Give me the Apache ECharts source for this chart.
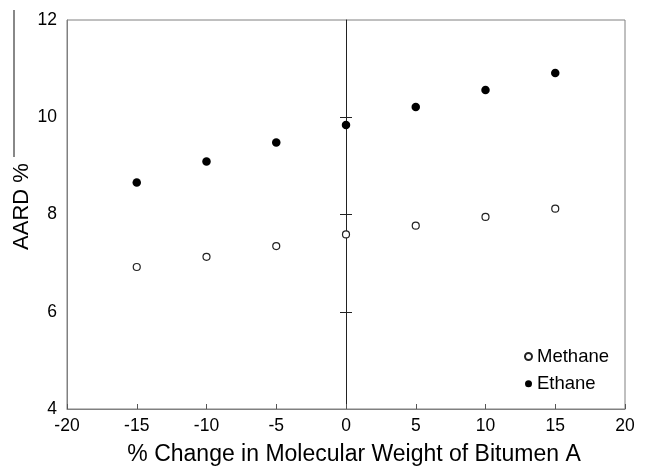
<!DOCTYPE html>
<html>
<head>
<meta charset="utf-8">
<style>
  html, body { margin: 0; padding: 0; background: #fff; }
  #chart { width: 646px; height: 466px; }
</style>
<script src="https://cdn.jsdelivr.net/npm/echarts@6/dist/echarts.min.js"></script>
</head>
<body>
<div id="chart"></div>
<script>
// % change in molecular weight of Bitumen A
const pctChange = [-15, -10, -5, 0, 5, 10, 15];
// AARD % for each gas
const methaneAARD = [6.92, 7.13, 7.35, 7.59, 7.77, 7.95, 8.12];
const ethaneAARD = [8.66, 9.09, 9.48, 9.84, 10.21, 10.56, 10.91];
// axis ticks
const xTicks = [-20, -15, -10, -5, 0, 5, 10, 15, 20];
const yTicks = [4, 6, 8, 10, 12];
const zeroLineTicks = [6, 8, 10];

const FONT = "'Liberation Sans', Arial, Helvetica, sans-serif";
const pairs = (ys) => pctChange.map((x, i) => [x, ys[i]]);

const chart = echarts.init(document.getElementById('chart'), null, { renderer: 'canvas' });

const zeroAxisBase = {
  type: 'value',
  position: 'left',
  min: yTicks[0],
  max: yTicks[yTicks.length - 1],
  interval: 2,
  axisLabel: { show: false },
  splitLine: { show: false }
};

chart.setOption({
  backgroundColor: '#ffffff',
  animation: false,
  grid: {
    left: 67, right: 21, top: 20, bottom: 57,
    show: true, borderColor: '#808080', borderWidth: 1,
    backgroundColor: 'transparent'
  },
  legend: {
    orient: 'vertical',
    left: 524, top: 347,
    padding: 0,
    itemWidth: 7, itemHeight: 7, itemGap: 8.3,
    icon: 'circle',
    data: ['Methane', 'Ethane'],
    textStyle: { fontFamily: FONT, fontSize: 18.5, lineHeight: 19, color: '#000' }
  },
  xAxis: {
    type: 'value',
    min: xTicks[0],
    max: xTicks[xTicks.length - 1],
    interval: 5,
    axisLine: { show: true, lineStyle: { color: '#808080', width: 1 } },
    axisTick: { show: true, inside: true, length: 5, lineStyle: { color: '#555' } },
    axisLabel: { fontFamily: FONT, fontSize: 17.5, color: '#000', margin: 8 },
    splitLine: { show: false }
  },
  yAxis: [
    {
      type: 'value',
      position: 'left',
      min: yTicks[0],
      max: yTicks[yTicks.length - 1],
      interval: 2,
      axisLine: { show: true, onZero: false, lineStyle: { color: '#808080', width: 1 } },
      axisTick: { show: false },
      axisLabel: { fontFamily: FONT, fontSize: 17.5, color: '#000', margin: 10 },
      splitLine: { show: false }
    },
    Object.assign({}, zeroAxisBase, {
      axisLine: { show: true, onZero: true, onZeroAxisIndex: 0, lineStyle: { color: '#222', width: 1 } },
      axisTick: { show: true, inside: false, length: 6, customValues: zeroLineTicks, lineStyle: { color: '#222' } }
    }),
    Object.assign({}, zeroAxisBase, {
      axisLine: { show: false, onZero: true, onZeroAxisIndex: 0 },
      axisTick: { show: true, inside: true, length: 6, customValues: zeroLineTicks, lineStyle: { color: '#222' } }
    })
  ],
  series: [
    {
      name: 'Methane',
      type: 'scatter',
      yAxisIndex: 0,
      symbol: 'circle',
      symbolSize: 7,
      itemStyle: { color: '#ffffff', borderColor: '#222', borderWidth: 1.2, opacity: 1 },
      data: pairs(methaneAARD),
      z: 5
    },
    {
      name: 'Ethane',
      type: 'scatter',
      yAxisIndex: 0,
      symbol: 'circle',
      symbolSize: 8.5,
      itemStyle: { color: '#000000', opacity: 1 },
      data: pairs(ethaneAARD),
      z: 5
    }
  ],
  graphic: [
    {
      type: 'line',
      shape: { x1: 14, y1: 10, x2: 14, y2: 157 },
      style: { stroke: '#888', lineWidth: 2 },
      silent: true
    },
    {
      type: 'text',
      x: 127.3, y: 455,
      style: {
        text: '% Change in Molecular Weight of Bitumen A',
        font: '23px ' + FONT,
        fill: '#000',
        align: 'left',
        verticalAlign: 'middle'
      },
      silent: true
    },
    {
      type: 'text',
      x: 22.4, y: 206.5,
      rotation: Math.PI / 2,
      style: {
        text: 'AARD %',
        font: '22px ' + FONT,
        fill: '#000',
        align: 'center',
        verticalAlign: 'middle'
      },
      silent: true
    }
  ]
});
</script>
</body>
</html>
